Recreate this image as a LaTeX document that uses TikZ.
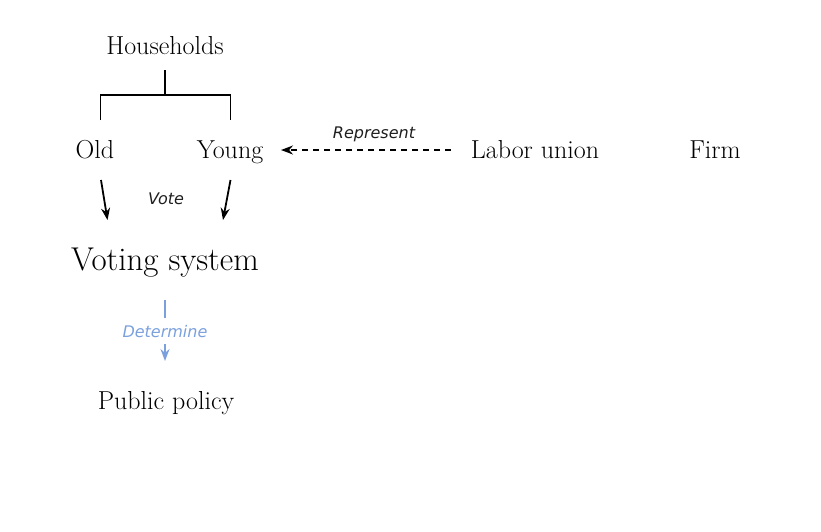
\documentclass[tikz,border=0pt]{standalone}
\usepackage{fontspec}
\newfontfamily\labelfont{DejaVu Sans}
\usetikzlibrary{arrows.meta}
\definecolor{detblue}{RGB}{122,160,222}
\definecolor{labgray}{RGB}{30,30,30}
\tikzset{
  main/.style={font=\fontsize{26}{30}\selectfont, anchor=base, inner sep=0pt},
  big/.style={font=\fontsize{33}{38}\selectfont, anchor=base, inner sep=0pt},
  lbl/.style={font=\labelfont\itshape\fontsize{16}{19}\selectfont, anchor=base, inner sep=0pt, text=labgray},
  conn/.style={line width=1.8pt},
  arr/.style={line width=1.8pt, -{Stealth[length=12pt,width=9pt]}},
  darr/.style={line width=1.8pt, dash pattern=on 6pt off 5pt, -{Stealth[length=12pt,width=9pt]}},
}
\begin{document}
\begin{tikzpicture}[x=1pt,y=-1pt]
\useasboundingbox (0,0) rectangle (821,531);
% nodes
\node[main] (hh) at (165,54) {Households};
\node[main] (old) at (95,158) {Old};
\node[main] (young) at (230,158) {Young};
\node[main] (union) at (535,158) {Labor union};
\node[main] (firm) at (715,158) {Firm};
\node[big] (vote) at (165,270) {Voting system};
\node[main] (policy) at (166,409) {Public policy};
% labels
\node[lbl] (lvote) at (166,204) {Vote};
\node[lbl] (lrep) at (374,138) {Represent};
\node[lbl, text=detblue] (ldet) at (165,337) {Determine};
% bracket
\coordinate (hstem) at (165,70);
\coordinate (hmid) at (165,95);
\coordinate (bl) at (100.5,95);
\coordinate (br) at (230.5,95);
\coordinate (oldtop) at (100.5,120);
\coordinate (youngtop) at (230.5,120);
\draw[conn] (hstem) -- (hmid);
\draw[conn] (oldtop) -- (bl) -- (br) -- (youngtop);
% vote arrows
\coordinate (oa) at (101,180);
\coordinate (ob) at (107.5,220);
\coordinate (ya) at (230.5,180);
\coordinate (yb) at (223,220);
\draw[arr] (oa) -- (ob);
\draw[arr] (ya) -- (yb);
% represent
\coordinate (ra) at (451,150);
\coordinate (rb) at (281,150);
\draw[darr] (ra) -- (rb);
% determine
\coordinate (da) at (165,300);
\coordinate (db) at (165,318);
\coordinate (dc) at (165,344);
\coordinate (dd) at (165,361);
\draw[detblue, line width=1.8pt] (da) -- (db);
\draw[detblue, line width=1.8pt, -{Stealth[length=12pt,width=9pt]}] (dc) -- (dd);
\end{tikzpicture}
\end{document}
